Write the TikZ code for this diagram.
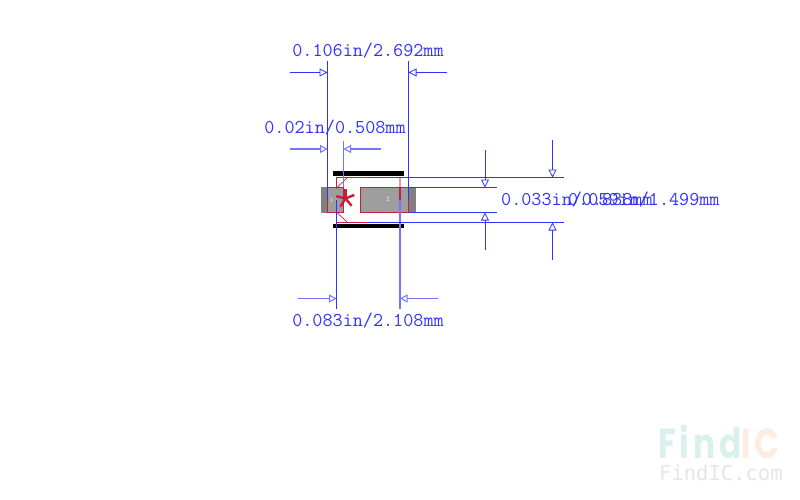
\documentclass[tikz,border=0pt]{standalone}
\usepackage{fontspec}
\usetikzlibrary{arrows.meta}
\newfontfamily\logofont[FakeStretch=0.78, LetterSpace=9]{Poppins}
\newfontfamily\sitefont{DejaVu Sans Mono}
\definecolor{dimblue}{RGB}{50,50,255}
\definecolor{padred}{RGB}{200,30,60}
\definecolor{padgray}{RGB}{158,158,158}
\definecolor{logoteal}{RGB}{218,240,236}
\definecolor{logoorange}{RGB}{253,236,224}
\tikzset{
  dimline/.style={draw=dimblue, line width=0.8pt},
  paleline/.style={draw=dimblue!68, line width=1.4pt},
  dimarrow/.style={dimline, -{Triangle[open, length=8pt, width=8pt]}},
  palearrow/.style={paleline, -{Triangle[open, length=7.5pt, width=8pt, line width=1pt]}},
  dimtext/.style={text=dimblue, inner sep=0pt, font=\fontsize{19.6}{19.6}\ttfamily},
  outline/.style={draw=padred, line width=0.9pt},
  padnum/.style={text=white!85!gray, inner sep=0pt, font=\fontsize{7}{7}\selectfont},
}
\begin{document}
\begin{tikzpicture}[x=1pt, y=-1pt]
\useasboundingbox (0,0) rectangle (800,499);
% pads
\fill[padgray] (321,186.5) rectangle (344,212.5);
\fill[padgray] (360,186.5) rectangle (416,212.5);
\fill[gray] (408.5,186.5) rectangle (416,212.5);
\fill[gray] (321,186.5) rectangle (327.5,212.5);
\node[padnum] (num1) at (331.5,200) {1};
\node[padnum] (num2) at (387.5,199.5) {2};
% silk
\fill[black] (333,171.2) rectangle (404,175.5);
\fill[black] (333,224) rectangle (404,228.3);
% outline
\draw[outline] (327.5,187) rectangle (343.5,212.5);
\draw[outline] (360,187) rectangle (408.5,212.5);
\draw[outline, line width=0.7pt] (347.5,177.5) -- (336.5,188) -- (336.5,177.5) -- (368,177.5);
\draw[outline, line width=0.7pt] (347.5,222.5) -- (336.5,212) -- (336.5,222.5) -- (368,222.5);
\draw[padred!45, line width=1.5pt] (400,177.5) -- (400,200);
\draw[padred, line width=1.5pt] (400,187) -- (400,200);
\foreach \ang in {-90,-22,50,122,194}
  \draw[padred, line width=2.4pt] (345.5,198.5) -- ++(\ang:9.5);
% extension lines
\coordinate (w1a) at (327.5,61);
\coordinate (w1b) at (327.5,200);
\coordinate (w2a) at (408.5,61);
\coordinate (w2b) at (408.5,200);
\coordinate (g1a) at (343.5,141);
\coordinate (g1b) at (343.5,187);
\coordinate (b1a) at (336.5,200);
\coordinate (b1b) at (336.5,309);
\coordinate (b2a) at (400,200);
\coordinate (b2b) at (400,309);
\coordinate (h1a) at (368,177.5);
\coordinate (h1b) at (564,177.5);
\coordinate (h2a) at (368,222.5);
\coordinate (h2b) at (564,222.5);
\coordinate (p1a) at (408.5,187.5);
\coordinate (p1b) at (497,187.5);
\coordinate (p2a) at (408.5,212.5);
\coordinate (p2b) at (497,212.5);
\draw[dimline] (w1a) -- (w1b);
\draw[dimline] (w2a) -- (w2b);
\draw[paleline] (g1a) -- (g1b);
\draw[dimline] (b1a) -- (b1b);
\draw[paleline] (b2a) -- (b2b);
\draw[dimline] (h1a) -- (h1b);
\draw[dimline] (h2a) -- (h2b);
\draw[dimline] (p1a) -- (p1b);
\draw[dimline] (p2a) -- (p2b);
% arrows
\coordinate (a1) at (290,72.5);
\coordinate (t1) at (327.5,72.5);
\coordinate (a2) at (447,72.5);
\coordinate (t2) at (408.5,72.5);
\coordinate (a3) at (290,149);
\coordinate (t3) at (327.5,149);
\coordinate (a4) at (381,149);
\coordinate (t4) at (343.5,149);
\coordinate (a5) at (298,298.5);
\coordinate (t5) at (336.5,298.5);
\coordinate (a6) at (438,298.5);
\coordinate (t6) at (400,298.5);
\coordinate (a7) at (485,150);
\coordinate (t7) at (485,187.5);
\coordinate (a8) at (485,250);
\coordinate (t8) at (485,212.5);
\coordinate (a9) at (552.5,140);
\coordinate (t9) at (552.5,177.5);
\coordinate (a10) at (552.5,260);
\coordinate (t10) at (552.5,222.5);
\foreach \i in {1,2,7,8,9,10}
  \draw[dimarrow] (a\i) -- (t\i);
\foreach \i in {3,4,5,6}
  \draw[palearrow] (a\i) -- (t\i);
% labels
\node[dimtext] (widthlabel) at (368,51) {0.106in/2.692mm};
\node[dimtext] (gaplabel) at (335,128) {0.02in/0.508mm};
\node[dimtext] (bodylabel) at (368,321) {0.083in/2.108mm};
\node[dimtext, anchor=west] (padlabel) at (501,200) {0.033in/0.838mm};
\node[dimtext, anchor=west] (heightlabel) at (568,200) {0.059in/1.499mm};
% watermark
\node[inner sep=0pt, anchor=base west, font=\fontsize{42}{42}\logofont\bfseries] (logo) at (658,458) {\textcolor{logoteal}{Find}\textcolor{logoorange}{IC}};
\node[inner sep=0pt, text=black!10, anchor=base west, font=\fontsize{20.5}{20.5}\sitefont] (site) at (659,480) {FindIC.com};
\end{tikzpicture}
\end{document}
